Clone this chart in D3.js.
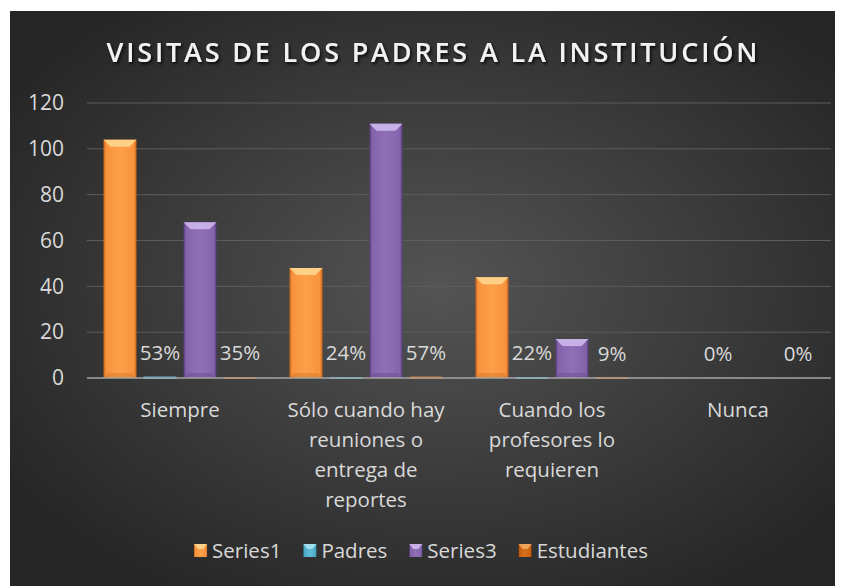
<!DOCTYPE html>
<html>
<head>
<meta charset="utf-8">
<title>Visitas de los padres</title>
<script src="https://d3js.org/d3.v7.min.js"></script>
<style>
  body { margin: 0; background: #fff; }
  text { font-family: "Open Sans", sans-serif; }
</style>
</head>
<body>
<div id="chart"></div>
<script>
// datos
const categories = ["Siempre", "Sólo cuando hay reuniones o entrega de reportes", "Cuando los profesores lo requieren", "Nunca"];
const seriesNames = ["Series1", "Padres", "Series3", "Estudiantes"];
const series1 = [104, 48, 44, 0];
const padres = [0.53, 0.24, 0.22, 0];
const series3 = [68, 111, 17, 0];
const estudiantes = [0.35, 0.57, 0.09, 0];
const yTicks = [0, 20, 40, 60, 80, 100, 120];
const title = "VISITAS DE LOS PADRES A LA INSTITUCIÓN";

const W = 847, H = 586;
const colors = {
  Series1: {base: "#f7933c", light: "#fca04a", dark: "#c8641c", top: "#ffd68e"},
  Padres: {base: "#4bacc6", light: "#62bdd4", dark: "#2f8aa3", top: "#a8e4f2"},
  Series3: {base: "#8463ac", light: "#8f70b6", dark: "#563b78", top: "#cdb8ec"},
  Estudiantes: {base: "#c8600f", light: "#d9701c", dark: "#8c3e06", top: "#f0a860"}
};
const values = {Series1: series1, Padres: padres, Series3: series3, Estudiantes: estudiantes};
const showLabel = {Series1: false, Padres: true, Series3: false, Estudiantes: true};

const svg = d3.select("#chart").append("svg")
    .attr("width", W).attr("height", H);

const defs = svg.append("defs");
const bg = defs.append("radialGradient").attr("id", "bg")
    .attr("cx", "52%").attr("cy", "48%").attr("r", "62%");
bg.append("stop").attr("offset", "0%").attr("stop-color", "#545454");
bg.append("stop").attr("offset", "100%").attr("stop-color", "#262626");

seriesNames.forEach(s => {
  const g = defs.append("linearGradient").attr("id", "g-" + s)
      .attr("x1", "0%").attr("x2", "100%").attr("y1", "0%").attr("y2", "0%");
  g.append("stop").attr("offset", "0%").attr("stop-color", colors[s].dark);
  g.append("stop").attr("offset", "8%").attr("stop-color", colors[s].base);
  g.append("stop").attr("offset", "50%").attr("stop-color", colors[s].light);
  g.append("stop").attr("offset", "92%").attr("stop-color", colors[s].base);
  g.append("stop").attr("offset", "100%").attr("stop-color", colors[s].dark);
});

const sh = defs.append("filter").attr("id", "shadow")
    .attr("x", "-10%").attr("y", "-30%").attr("width", "120%").attr("height", "160%");
sh.append("feDropShadow").attr("dx", 1.5).attr("dy", 2).attr("stdDeviation", 1.5)
    .attr("flood-color", "#000").attr("flood-opacity", 0.8);

svg.append("rect")
    .attr("x", 10).attr("y", 11).attr("width", 825).attr("height", H - 11)
    .attr("fill", "url(#bg)");

// escalas
const x = d3.scaleBand().domain(categories).range([87, 831]);
const xs = d3.scaleBand().domain(seriesNames).range([0, x.bandwidth()])
    .paddingInner(0.175).paddingOuter(0.4125);
const y = d3.scaleLinear().domain([0, 120]).range([378, 103]);

// rejilla
svg.append("g").selectAll("line")
    .data(yTicks.filter(d => d > 0))
    .join("line")
      .attr("x1", 87).attr("x2", 831)
      .attr("y1", d => y(d)).attr("y2", d => y(d))
      .attr("stroke", "#5d5d5d").attr("stroke-width", 1);

// eje y
const yAxis = svg.append("g")
    .attr("transform", "translate(64,0)")
    .call(d3.axisLeft(y).tickValues(yTicks).tickSize(0).tickPadding(0));
yAxis.select(".domain").remove();
yAxis.selectAll("text")
    .attr("fill", "#d9d9d9")
    .style("font-size", "21px")
    .style("font-family", "'Open Sans', sans-serif");

// barras
const rows = [];
categories.forEach((c, i) => {
  seriesNames.forEach(s => rows.push({cat: c, s: s, v: values[s][i]}));
});

const bars = svg.append("g").selectAll("g")
    .data(rows)
    .join("g")
      .attr("transform", d => "translate(" + (x(d.cat) + xs(d.s)) + ",0)");

const bw = xs.bandwidth();
bars.append("rect")
    .attr("x", 0)
    .attr("y", d => y(d.v))
    .attr("width", bw)
    .attr("height", d => y(0) - y(d.v))
    .attr("fill", d => "url(#g-" + d.s + ")");

// bisel superior
bars.append("path")
    .attr("d", d => {
      const h = y(0) - y(d.v);
      const b = Math.min(7, h / 2);
      const t = y(d.v);
      return "M0," + t + "L" + bw + "," + t + "L" + (bw - b) + "," + (t + b) +
             "L" + b + "," + (t + b) + "Z";
    })
    .attr("fill", d => colors[d.s].top)
    .attr("opacity", 0.9);

// bisel inferior
bars.append("path")
    .attr("d", d => {
      const h = y(0) - y(d.v);
      const b = Math.min(5, h / 3);
      const t = y(0);
      return "M0," + t + "L" + bw + "," + t + "L" + (bw - b) + "," + (t - b) +
             "L" + b + "," + (t - b) + "Z";
    })
    .attr("fill", d => colors[d.s].dark)
    .attr("opacity", 0.3);

// linea base
svg.append("line")
    .attr("x1", 87).attr("x2", 831)
    .attr("y1", y(0)).attr("y2", y(0))
    .attr("stroke", "#a6a6a6").attr("stroke-width", 1.5);

// barras pequenas sobre la linea base
bars.filter(d => d.v > 0 && y(0) - y(d.v) < 3)
  .append("rect")
    .attr("x", 0).attr("y", y(0) - 1).attr("width", bw).attr("height", 2)
    .attr("fill", d => colors[d.s].base);

// etiquetas de porcentaje
bars.filter(d => showLabel[d.s])
  .append("text")
    .attr("x", bw / 2)
    .attr("y", d => y(d.v) - 17)
    .attr("text-anchor", "middle")
    .attr("fill", "#d9d9d9")
    .style("font-size", "20.5px")
    .text(d => Math.round(d.v * 100) + "%");

// etiquetas de categoria
function wrap(str, maxW, node) {
  const words = str.split(" ");
  const lines = [];
  let cur = "";
  words.forEach(w => {
    const test = cur ? cur + " " + w : w;
    node.text(test);
    if (node.node().getComputedTextLength() > maxW && cur) {
      lines.push(cur);
      cur = w;
    } else {
      cur = test;
    }
  });
  if (cur) lines.push(cur);
  node.text("");
  return lines;
}

svg.append("g").selectAll("text")
    .data(categories)
    .join("text")
      .attr("x", d => x(d) + x.bandwidth() / 2)
      .attr("y", 417)
      .attr("text-anchor", "middle")
      .attr("fill", "#d9d9d9")
      .style("font-size", "20.5px")
      .each(function(d) {
        const t = d3.select(this);
        const lines = wrap(d, 172, t);
        lines.forEach((l, i) => {
          t.append("tspan").attr("x", x(d) + x.bandwidth() / 2)
            .attr("dy", i === 0 ? 0 : 30).text(l);
        });
      });

// titulo
svg.append("text")
    .attr("x", 432).attr("y", 62)
    .attr("text-anchor", "middle")
    .attr("fill", "#f2f2f2")
    .attr("filter", "url(#shadow)")
    .attr("textLength", 651)
    .attr("lengthAdjust", "spacing")
    .style("font-size", "27px")
    .style("font-weight", "600")
    .text(title);

// leyenda
const legend = svg.append("g");
let lx = 0;
seriesNames.forEach(s => {
  const item = legend.append("g").attr("transform", "translate(" + lx + ",0)");
  item.append("rect").attr("x", 0).attr("y", 544).attr("width", 13).attr("height", 13)
      .attr("fill", "url(#g-" + s + ")");
  item.append("path")
      .attr("d", "M0,544L13,544L9,549L4,549Z")
      .attr("fill", colors[s].top).attr("opacity", 0.9);
  const t = item.append("text").attr("x", 18).attr("y", 558)
      .attr("fill", "#d9d9d9").style("font-size", "20.5px").text(s);
  lx += 18 + t.node().getComputedTextLength() + 22;
});
const legendW = lx - 22;
legend.attr("transform", "translate(" + (421 - legendW / 2) + ",0)");
</script>
</body>
</html>
